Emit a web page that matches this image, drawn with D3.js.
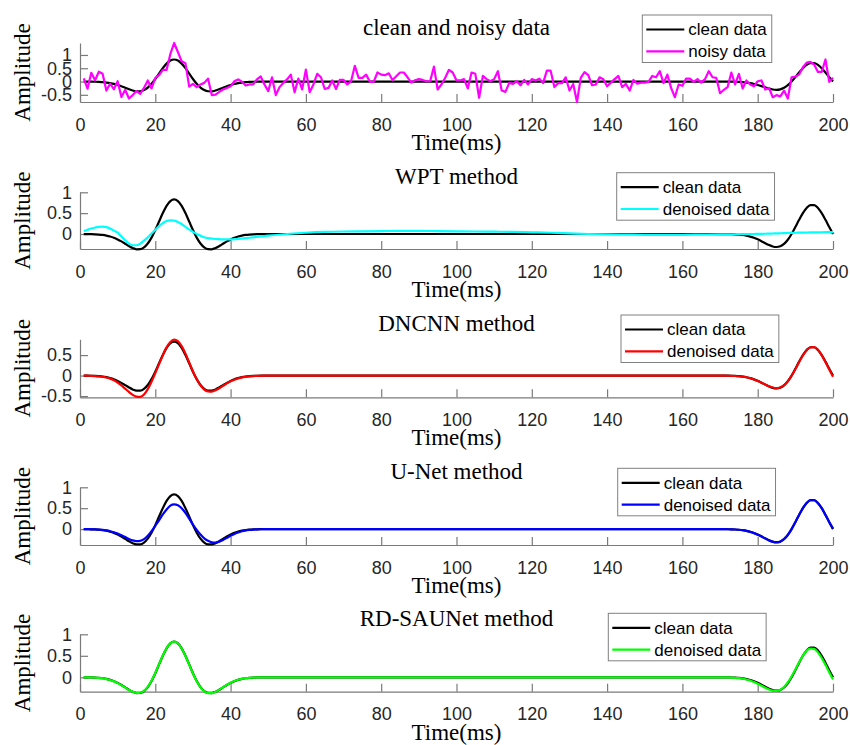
<!DOCTYPE html>
<html>
<head>
<meta charset="utf-8">
<script src="https://cdn.jsdelivr.net/npm/d3@7"></script>
<style>
  body { margin: 0; background: #fff; }
  svg { display: block; }
</style>
</head>
<body>
<svg id="chart" width="850" height="745"></svg>
<script>
// Sample times (ms) for the smooth traces: dense around the two wavelets, sparse on the flat part
const timeMs = [
  1,2,3,4,5,6,7,8,9,10,11,12,13,14,15,16,17,18,19,20,
  21,22,23,24,25,26,27,28,29,30,31,32,33,34,35,36,37,38,39,40,
  41,42,43,44,45,46,47,48,49,50,
  55,60,65,70,75,80,85,90,95,100,105,110,115,120,125,130,135,140,145,150,155,160,165,
  170,171,172,173,174,175,176,177,178,179,180,181,182,183,184,185,186,187,188,189,190,
  191,192,193,194,195,196,197,198,199,200
];

const cleanData = [
  -0.001,-0.002,-0.004,-0.008,-0.014,-0.023,-0.038,-0.060,-0.090,-0.130,
  -0.178,-0.233,-0.289,-0.337,-0.367,-0.365,-0.322,-0.229,-0.087,0.095,
  0.300,0.502,0.674,0.789,0.830,0.789,0.674,0.502,0.300,0.095,
  -0.087,-0.229,-0.322,-0.365,-0.367,-0.337,-0.289,-0.233,-0.178,-0.130,
  -0.090,-0.060,-0.038,-0.023,-0.014,-0.008,-0.004,-0.002,-0.001,0,
  0,0,0,0,0,0,0,0,0,0,0,0,0,0,0,0,0,0,0,0,0,0,0,
  -0.001,-0.001,-0.003,-0.005,-0.009,-0.015,-0.025,-0.041,-0.062,-0.092,-0.129,
  -0.173,-0.221,-0.265,-0.299,-0.312,-0.294,-0.237,-0.138,0,0.166,
  0.340,0.501,0.624,0.691,0.691,0.624,0.501,0.340,0.166,0
];

const wptData = [
  0.07,0.10,0.13,0.155,0.17,0.175,0.165,0.13,0.08,0.03,
  -0.06,-0.15,-0.23,-0.27,-0.27,-0.23,-0.16,-0.08,0.01,0.10,
  0.19,0.26,0.31,0.33,0.32,0.29,0.24,0.17,0.11,0.05,
  0.0,-0.04,-0.08,-0.10,-0.11,-0.12,-0.125,-0.13,-0.13,-0.13,
  -0.125,-0.12,-0.11,-0.10,-0.09,-0.08,-0.07,-0.06,-0.05,-0.04,
  0.0,0.03,0.05,0.06,0.065,0.07,0.075,0.075,0.07,0.065,0.06,0.055,0.05,0.04,0.03,0.015,0.0,-0.01,-0.015,-0.02,-0.02,-0.02,-0.015,
  -0.01,-0.01,-0.008,-0.007,-0.006,-0.005,-0.004,-0.003,-0.002,0,0.002,
  0.004,0.006,0.009,0.012,0.015,0.018,0.021,0.024,0.027,0.03,
  0.032,0.034,0.036,0.038,0.04,0.041,0.042,0.043,0.044,0.045
];

const dncnnData = [
  0,-0.003,-0.006,-0.012,-0.02,-0.03,-0.048,-0.075,-0.115,-0.17,
  -0.24,-0.32,-0.40,-0.47,-0.515,-0.52,-0.46,-0.33,-0.15,0.06,
  0.28,0.50,0.69,0.82,0.875,0.84,0.72,0.54,0.32,0.10,
  -0.09,-0.24,-0.34,-0.385,-0.39,-0.36,-0.31,-0.25,-0.19,-0.14,
  -0.10,-0.07,-0.045,-0.03,-0.02,-0.012,-0.008,-0.005,-0.003,-0.002,
  0,0,0,0,0,0,0,0,0,0,0,0,0,0,0,0,0,0,0,0,0,0,0,
  -0.002,-0.003,-0.004,-0.006,-0.01,-0.016,-0.026,-0.042,-0.064,-0.094,-0.13,
  -0.172,-0.218,-0.26,-0.292,-0.305,-0.29,-0.235,-0.14,-0.005,0.155,
  0.33,0.49,0.62,0.69,0.695,0.63,0.50,0.33,0.15,-0.03
];

const unetData = [
  0,-0.002,-0.004,-0.007,-0.012,-0.02,-0.032,-0.05,-0.075,-0.105,
  -0.145,-0.19,-0.235,-0.27,-0.285,-0.28,-0.24,-0.16,-0.05,0.08,
  0.21,0.35,0.47,0.56,0.59,0.57,0.50,0.39,0.25,0.11,
  -0.02,-0.13,-0.22,-0.28,-0.315,-0.32,-0.30,-0.26,-0.21,-0.16,
  -0.115,-0.08,-0.05,-0.03,-0.018,-0.01,-0.006,-0.003,-0.002,-0.001,
  0,0,0,0,0,0,0,0,0,0,0,0,0,0,0,0,0,0,0,0,0,0,0,
  -0.001,-0.002,-0.003,-0.005,-0.009,-0.015,-0.026,-0.043,-0.065,-0.096,-0.134,
  -0.178,-0.227,-0.272,-0.306,-0.32,-0.30,-0.24,-0.14,0,0.165,
  0.34,0.50,0.625,0.69,0.69,0.62,0.50,0.34,0.17,0.02
];

const rdsaunetData = [
  -0.001,-0.002,-0.004,-0.008,-0.015,-0.025,-0.041,-0.064,-0.095,-0.136,
  -0.184,-0.238,-0.292,-0.338,-0.365,-0.36,-0.315,-0.222,-0.08,0.10,
  0.305,0.505,0.675,0.788,0.828,0.786,0.67,0.497,0.295,0.09,
  -0.092,-0.233,-0.325,-0.367,-0.368,-0.337,-0.288,-0.231,-0.175,-0.127,
  -0.087,-0.057,-0.036,-0.021,-0.012,-0.007,-0.003,-0.002,-0.001,0,
  0,0,0,0,0,0,0,0,0,0,0,0,0,0,0,0,0,0,0,0,0,0,0,
  -0.001,-0.002,-0.004,-0.007,-0.012,-0.02,-0.032,-0.05,-0.076,-0.11,-0.15,
  -0.195,-0.243,-0.283,-0.308,-0.315,-0.29,-0.225,-0.12,0.02,0.18,
  0.35,0.50,0.62,0.67,0.66,0.58,0.45,0.29,0.12,-0.05
];

// Noisy record, one sample per ms (t = 1..200)
const noisyTime = d3.range(1, 201);
const noisyData = [
  0.12,-0.27,0.33,0.05,0.37,0.29,-0.34,-0.08,-0.29,0.01,
  -0.58,-0.31,-0.64,-0.51,-0.36,-0.46,-0.24,0.04,-0.26,0.14,
  0.24,0.44,0.44,1.04,1.45,1.11,0.76,0.69,-0.19,-0.09,
  -0.21,-0.11,-0.05,0.11,-0.51,-0.49,-0.39,-0.30,-0.24,-0.18,
  0.01,0.08,-0.01,-0.15,-0.11,-0.11,0.08,0.19,-0.11,-0.36,
  0.16,-0.51,-0.21,-0.05,0.08,0.26,-0.40,0.11,-0.30,0.45,
  -0.40,-0.11,0.29,0.16,-0.28,-0.24,0.04,-0.28,0.06,0.06,
  -0.11,0.01,0.59,0.14,0.14,0.26,-0.01,-0.01,0.34,0.26,
  0.24,0.31,0.06,0.20,0.34,0.34,0.16,-0.04,0.05,0.09,
  0.06,0.01,0.01,0.56,-0.30,-0.11,0.14,0.44,0.34,0.04,
  0.04,0.09,-0.26,0.34,0.29,-0.61,0.21,0.09,0.01,0.09,
  0.39,-0.34,-0.39,-0.05,-0.09,0.01,-0.14,0.06,-0.11,0.09,
  0.04,0.11,-0.06,0.41,0.41,-0.21,-0.06,-0.06,0.16,-0.34,
  -0.09,-0.77,0.14,0.35,0.24,-0.14,-0.11,0.16,0.09,-0.18,
  -0.04,0.09,0.21,-0.21,-0.09,-0.34,0.06,-0.08,-0.04,-0.04,
  -0.01,0.21,0.16,0.39,-0.06,0.26,-0.24,-0.59,-0.11,-0.16,
  0.11,0.11,-0.01,0.09,-0.04,0.09,0.39,0.16,0.14,-0.44,
  -0.31,-0.21,0.34,-0.11,0.29,-0.26,0.04,-0.11,-0.18,0.01,
  0.04,-0.30,-0.24,-0.59,-0.51,-0.56,-0.34,-0.64,0.16,0.19,
  0.26,0.54,0.71,0.74,0.64,0.36,0.36,0.83,-0.01,0.14
];

const panelTitles = ["clean and noisy data", "WPT method", "DNCNN method", "U-Net method", "RD-SAUNet method"];
const xTickValues = [0, 20, 40, 60, 80, 100, 120, 140, 160, 180, 200];
const yTickSets = [[-0.5, 0, 0.5, 1], [0, 0.5, 1], [-0.5, 0, 0.5], [0, 0.5, 1], [0, 0.5, 1]];
const yDomains = [[-0.77, 1.45], [-0.36, 1], [-0.53, 0.885], [-0.38, 1], [-0.335, 1]];
const legendNames = [["clean data", "noisy data"], ["clean data", "denoised data"], ["clean data", "denoised data"], ["clean data", "denoised data"], ["clean data", "denoised data"]];
const traceColors = ["#ff00ff", "#00ffff", "#ff0000", "#0000ff", "#00ff00"];
const secondTraces = [
  { t: noisyTime, v: noisyData, smooth: false },
  { t: timeMs, v: wptData, smooth: true },
  { t: timeMs, v: dncnnData, smooth: true },
  { t: timeMs, v: unetData, smooth: true },
  { t: timeMs, v: rdsaunetData, smooth: true }
];

// Layout of the stacked axes
const plotLeft = 80, plotRight = 833;
const plotTops = [43, 192.3, 339.3, 487.3, 634.3];
const plotHeights = [59, 56.7, 58, 57.7, 57.4];
const legendSpots = [[642.3, 15], [616.7, 172.7], [621, 315], [617.7, 468.3], [608.3, 613.3]];

const serif = "'Liberation Serif', 'Times New Roman', serif";
const sans = "'Liberation Sans', Arial, Helvetica, sans-serif";
const axisGray = "#7a7a7a";

const svg = d3.select("#chart");
const x = d3.scaleLinear().domain([0, 200]).range([plotLeft, plotRight]);

panelTitles.forEach((title, i) => {
  const top = plotTops[i], h = plotHeights[i], bottom = top + h;
  const y = d3.scaleLinear().domain(yDomains[i]).range([bottom, top]);
  const g = svg.append("g");

  // x axis with inward ticks
  const xAxis = g.append("g")
    .attr("transform", `translate(0,${bottom})`)
    .call(d3.axisBottom(x).tickValues(xTickValues).tickSizeInner(-8).tickSizeOuter(0).tickPadding(16).tickFormat(d3.format("d")));
  // y axis with inward ticks
  const yAxis = g.append("g")
    .attr("transform", `translate(${plotLeft},0)`)
    .call(d3.axisLeft(y).tickValues(yTickSets[i]).tickSizeInner(-8).tickSizeOuter(0).tickPadding(8).tickFormat(d => String(d)));

  [xAxis, yAxis].forEach(ax => {
    ax.select(".domain").attr("stroke", axisGray).attr("stroke-width", 1.2);
    ax.selectAll(".tick line").attr("stroke", axisGray).attr("stroke-width", 1.2);
    ax.selectAll(".tick text").attr("fill", "#262626").style("font-family", sans).style("font-size", "18px");
  });

  // traces: clean first, the method result on top
  const lineSmooth = d3.line().x(d => x(d[0])).y(d => y(d[1])).curve(d3.curveMonotoneX);
  const lineRaw = d3.line().x(d => x(d[0])).y(d => y(d[1]));
  g.append("path")
    .datum(timeMs.map((t, k) => [t, cleanData[k]]))
    .attr("fill", "none").attr("stroke", "#000").attr("stroke-width", 2.2)
    .attr("stroke-linejoin", "round")
    .attr("d", lineSmooth);
  const s = secondTraces[i];
  g.append("path")
    .datum(s.t.map((t, k) => [t, s.v[k]]))
    .attr("fill", "none").attr("stroke", traceColors[i]).attr("stroke-width", 2.2)
    .attr("stroke-linejoin", "round")
    .attr("d", s.smooth ? lineSmooth : lineRaw);

  // title and axis labels
  g.append("text")
    .attr("x", (plotLeft + plotRight) / 2).attr("y", top - 8)
    .attr("text-anchor", "middle")
    .style("font-family", serif).style("font-size", "23px").attr("fill", "#000")
    .text(title);
  g.append("text")
    .attr("transform", `translate(30,${top + h / 2}) rotate(-90)`)
    .attr("text-anchor", "middle")
    .style("font-family", serif).style("font-size", "23px").attr("fill", "#000")
    .text("Amplitude");
  g.append("text")
    .attr("x", (plotLeft + plotRight) / 2).attr("y", bottom + 48)
    .attr("text-anchor", "middle")
    .style("font-family", serif).style("font-size", "23px").attr("fill", "#000")
    .text("Time(ms)");

  // legend
  const [lx, ly] = legendSpots[i];
  const leg = g.append("g").attr("transform", `translate(${lx},${ly})`);
  const box = leg.append("rect").attr("fill", "#fff").attr("stroke", "#808080").attr("stroke-width", 1);
  const rowColors = ["#000", traceColors[i]];
  let maxW = 0;
  legendNames[i].forEach((name, r) => {
    const cy = 14.5 + r * 21.8;
    leg.append("line")
      .attr("x1", 4).attr("x2", 42).attr("y1", cy).attr("y2", cy)
      .attr("stroke", rowColors[r]).attr("stroke-width", 2.2);
    const tx = leg.append("text")
      .attr("x", 46).attr("y", cy).attr("dy", "0.35em")
      .style("font-family", sans).style("font-size", "17px").attr("fill", "#000")
      .text(name);
    maxW = Math.max(maxW, tx.node().getComputedTextLength());
  });
  box.attr("x", 0).attr("y", 0).attr("width", 46 + maxW + 5).attr("height", 47.5);
});
</script>
</body>
</html>
